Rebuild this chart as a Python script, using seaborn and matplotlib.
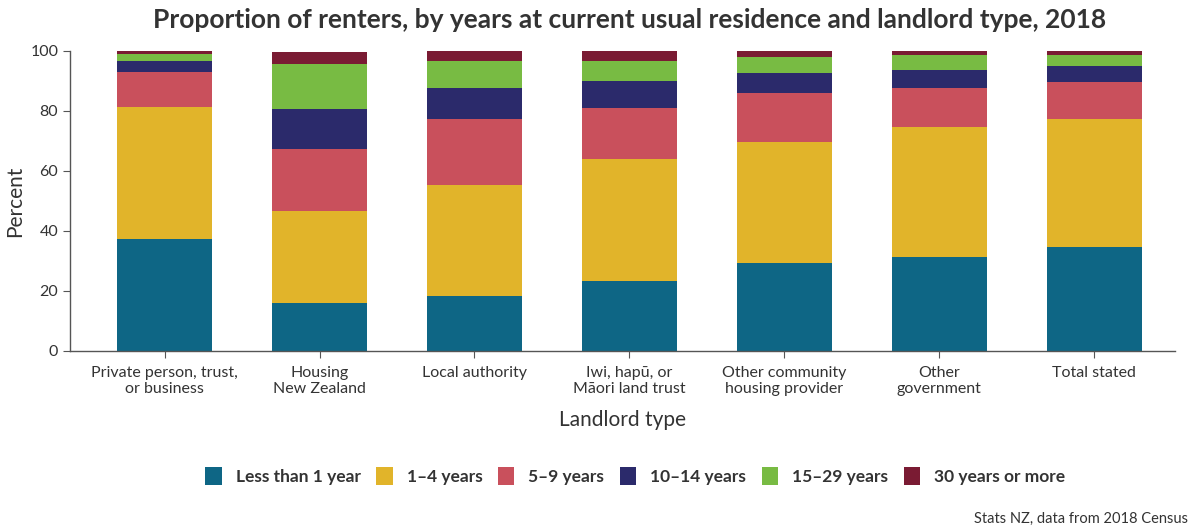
import matplotlib
matplotlib.use("Agg")
import matplotlib.pyplot as plt
from matplotlib.patches import Patch
import numpy as np
import pandas as pd
import seaborn as sns

categories = ["Private person, trust,\nor business", "Housing\nNew Zealand", "Local authority",
              "Iwi, hapū, or\nMāori land trust", "Other community\nhousing provider",
              "Other\ngovernment", "Total stated"]
series_names = ["Less than 1 year", "1–4 years", "5–9 years", "10–14 years", "15–29 years", "30 years or more"]
less_1 = [37.2, 15.9, 18.3, 23.3, 29.4, 31.4, 34.6]
y1_4 = [44.0, 30.7, 37.0, 40.7, 40.4, 43.2, 42.6]
y5_9 = [11.7, 20.8, 21.9, 16.9, 16.3, 13.2, 12.6]
y10_14 = [3.9, 13.4, 10.6, 9.1, 6.7, 5.9, 5.2]
y15_29 = [2.2, 14.9, 9.0, 6.6, 5.1, 5.0, 3.7]
y30_plus = [1.0, 3.9, 3.2, 3.4, 2.1, 1.3, 1.3]
colors = ["#0E6685", "#E1B42A", "#C9505C", "#2B2A6B", "#78BB43", "#7A1B33"]

values = [less_1, y1_4, y5_9, y10_14, y15_29, y30_plus]
cum = np.cumsum(np.array(values), axis=0)

sns.set_style("white")
plt.rcParams['font.family'] = ['Lato', 'DejaVu Sans']

fig = plt.figure(figsize=(11.94, 5.32), dpi=100)
ax = fig.add_axes([70/1194, 1-351/532, (1175-70)/1194, 300/532])

for i in reversed(range(len(series_names))):
    df = pd.DataFrame({"cat": categories, "val": cum[i]})
    sns.barplot(data=df, x="cat", y="val", color=colors[i], saturation=1, width=0.61,
                ax=ax, order=categories, linewidth=0)

ax.set_ylim(0, 100)
ax.set_xlim(-0.61, 6.52)
ax.set_yticks([0, 20, 40, 60, 80, 100])
ax.tick_params(axis='both', which='both', length=5, color='#555555', labelsize=11.5,
               labelcolor='#333333', direction='out', bottom=True, left=True)
ax.tick_params(axis='x', pad=6)
for s in ["top", "right"]:
    ax.spines[s].set_visible(False)
for s in ["left", "bottom"]:
    ax.spines[s].set_color('#555555')
    ax.spines[s].set_linewidth(1)
ax.set_xlabel("Landlord type", fontsize=15, color='#333333', labelpad=10)
ax.set_ylabel("Percent", fontsize=15, color='#333333', labelpad=4)

fig.text(0.527, 0.962, "Proportion of renters, by years at current usual residence and landlord type, 2018",
         ha='center', va='center', fontsize=19, fontweight='bold', color='#333333')

handles = [Patch(facecolor=c, edgecolor='none') for c in colors]
fig.legend(handles, series_names, loc='center', bbox_to_anchor=(0.532, 0.105), ncol=6,
           frameon=False, prop={'size': 12.5, 'weight': 'bold'}, handlelength=0.95, handleheight=1.15,
           columnspacing=0.9, handletextpad=0.8, labelcolor='#333333')

fig.text(0.995, 0.025, "Stats NZ, data from 2018 Census", ha='right', va='center',
         fontsize=10.5, color='#333333')

fig.savefig("out.png", dpi=100)
